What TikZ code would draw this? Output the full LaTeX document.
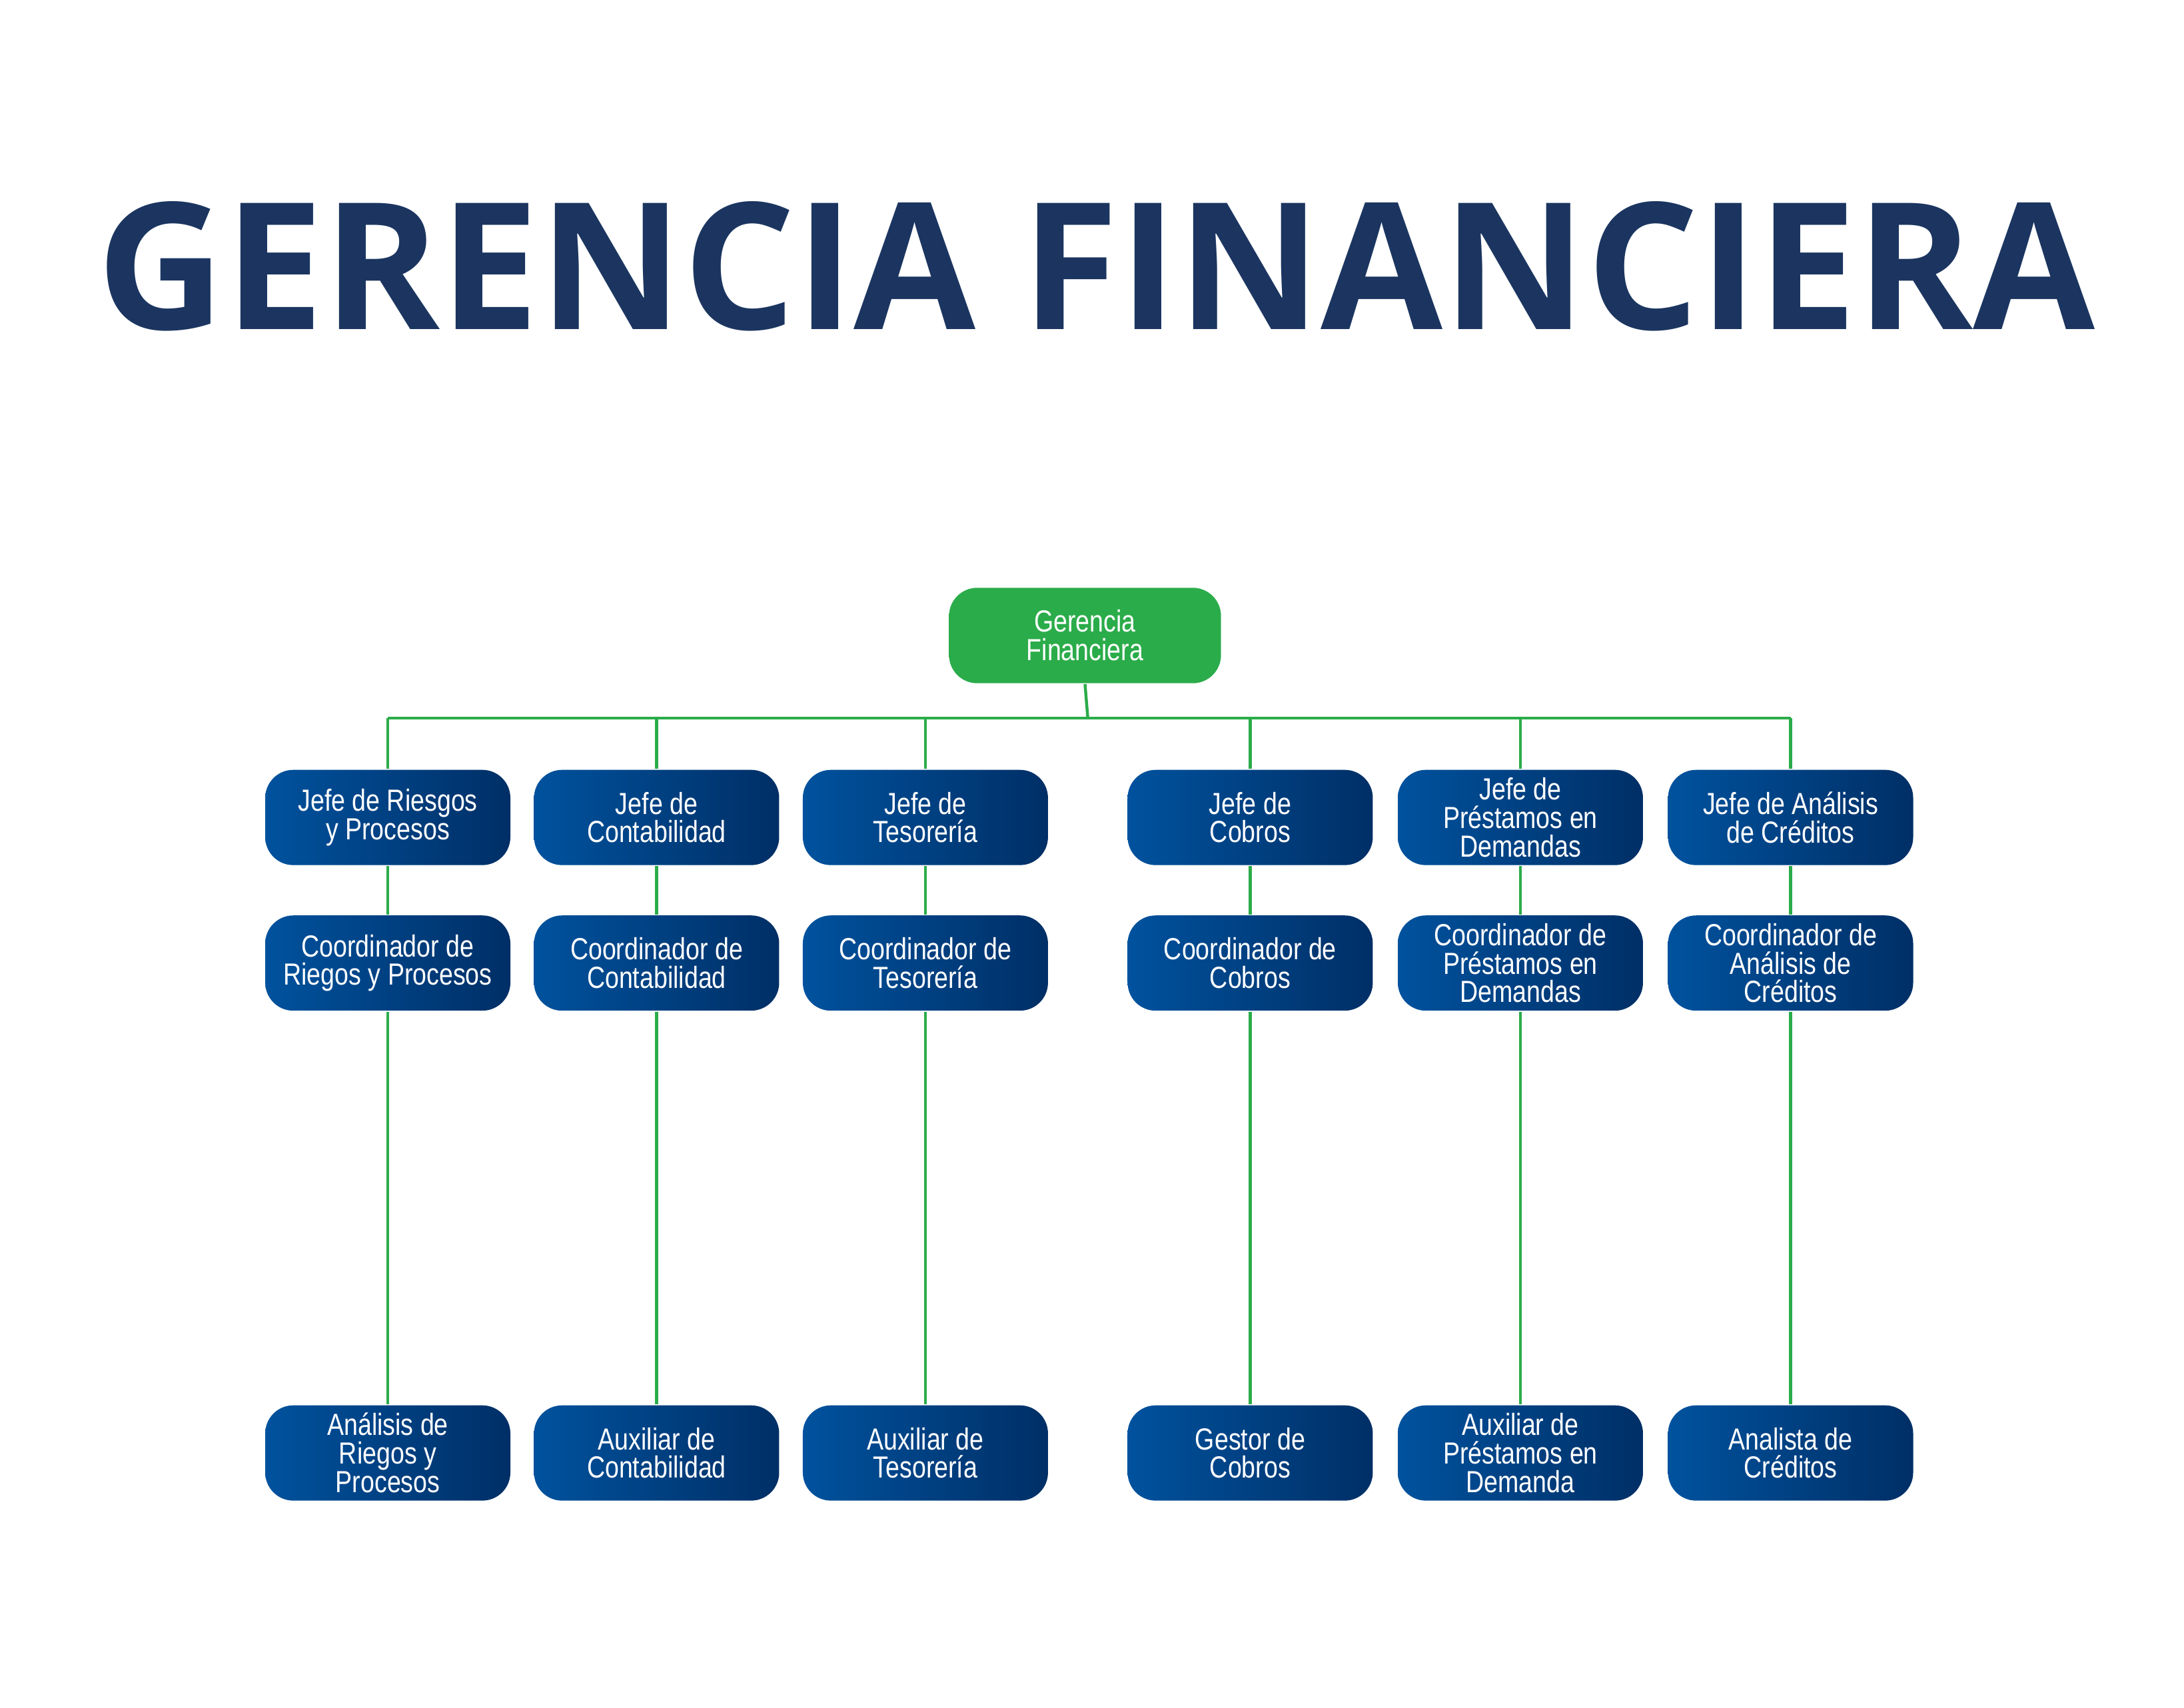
\documentclass[tikz,border=0pt]{standalone}
\usepackage{fontspec}
\setmainfont{Liberation Sans}[FakeStretch=0.82]
\newfontfamily\titlefont{Open Sans}
\usetikzlibrary{shadings}
\definecolor{tblue}{HTML}{1B3560}
\definecolor{gL}{HTML}{00529E}
\definecolor{gR}{HTML}{002F66}
\definecolor{ggreen}{HTML}{2BAC4A}
\begin{document}
\begin{tikzpicture}[x=0.01cm,y=-0.01cm,
  box/.style={rounded corners=0.2cm,minimum width=1.75cm,minimum height=0.68cm,inner sep=0pt,
    left color=gL,right color=gR,text=white,align=center,font=\fontsize{6.2}{5.8}\selectfont},
  topbox/.style={box,fill=ggreen,left color=ggreen,right color=ggreen,minimum width=1.94cm},
  conn/.style={draw=ggreen,line width=0.6pt}]
\useasboundingbox (0,0) rectangle (1560,1220);
\node[text=tblue,font=\titlefont\bfseries] at (783,190) {\resizebox{14.27cm}{!}{GERENCIA FINANCIERA}};
\node[topbox] (top) at (775,454) {Gerencia\\Financiera};
\coordinate (bus) at (777,513);
\foreach \i/\x/\a/\b/\c in {
 1/277/{Jefe de Riesgos\\y Procesos}/{Coordinador de\\Riegos y Procesos}/{Análisis de\\Riegos y\\Procesos},
 2/469/{Jefe de\\Contabilidad}/{Coordinador de\\Contabilidad}/{Auxiliar de\\Contabilidad},
 3/661/{Jefe de\\Tesorería}/{Coordinador de\\Tesorería}/{Auxiliar de\\Tesorería},
 4/893/{Jefe de\\Cobros}/{Coordinador de\\Cobros}/{Gestor de\\Cobros},
 5/1086/{Jefe de\\Préstamos en\\Demandas}/{Coordinador de\\Préstamos en\\Demandas}/{Auxiliar de\\Préstamos en\\Demanda},
 6/1279/{Jefe de Análisis\\de Créditos}/{Coordinador de\\Análisis de\\Créditos}/{Analista de\\Créditos}}{
  \node[box] (a\i) at (\x,584) {\a};
  \node[box] (b\i) at (\x,688) {\b};
  \node[box] (c\i) at (\x,1038) {\c};
  \coordinate (k\i) at (\x,513);
  \draw[conn] (k\i) -- (a\i.north);
  \draw[conn] (a\i) -- (b\i);
  \draw[conn] (b\i) -- (c\i);
}
\draw[conn] (top.south) -- (bus);
\draw[conn] (k1) -- (k6);
\end{tikzpicture}
\end{document}
